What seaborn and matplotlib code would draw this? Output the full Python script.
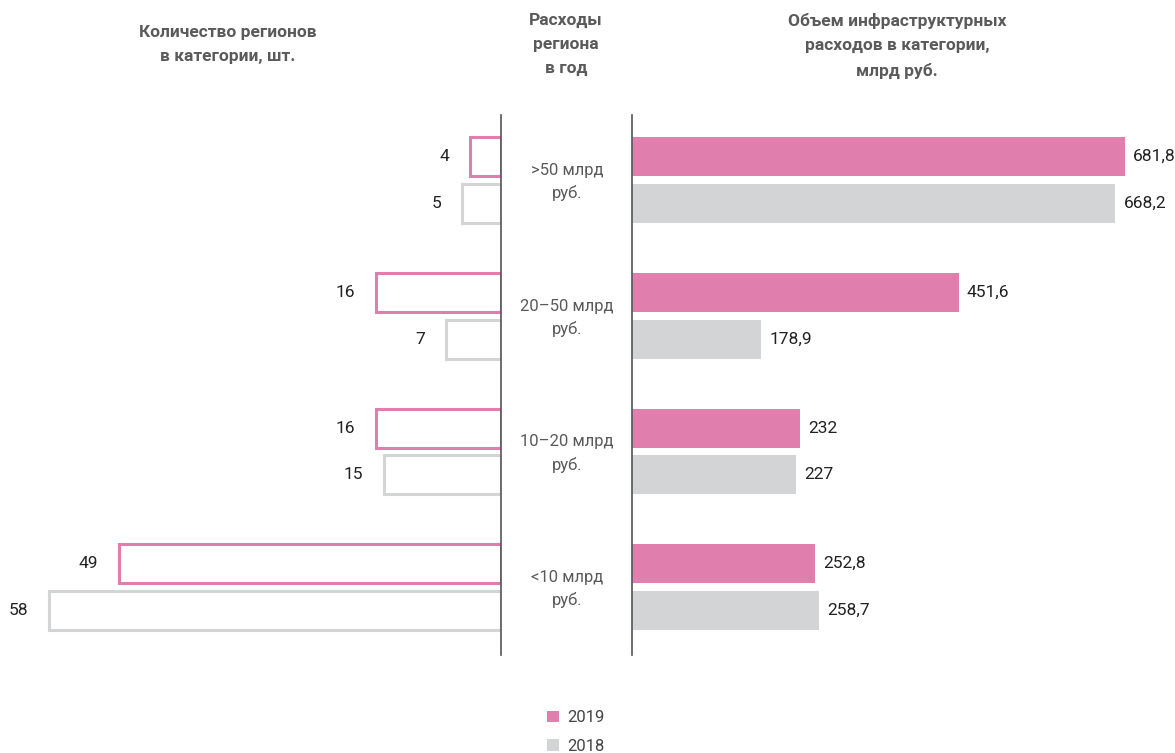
import pandas as pd
import matplotlib
matplotlib.use('Agg')
import matplotlib.pyplot as plt
import matplotlib.transforms as mtransforms
from matplotlib.patches import Patch
import seaborn as sns

categories = ['>50 млрд\nруб.', '20–50 млрд\nруб.', '10–20 млрд\nруб.', '<10 млрд\nруб.']
years = ['2019', '2018']
regions_2019 = [4, 16, 16, 49]
regions_2018 = [5, 7, 15, 58]
spend_2019 = [681.8, 451.6, 232, 252.8]
spend_2018 = [668.2, 178.9, 227, 258.7]

pink = '#E07FAD'
gray = '#D3D4D6'
palette = {'2019': pink, '2018': gray}
text_gray = '#5a5a5a'

sns.set_style('white')
plt.rcParams['font.family'] = ['Roboto', 'DejaVu Sans']

df_regions = pd.DataFrame({
    'cat': categories * 2,
    'year': ['2019'] * 4 + ['2018'] * 4,
    'value': regions_2019 + regions_2018,
})
df_spend = pd.DataFrame({
    'cat': categories * 2,
    'year': ['2019'] * 4 + ['2018'] * 4,
    'value': spend_2019 + spend_2018,
})

fig = plt.figure(figsize=(11.75, 7.53), dpi=100)
ax_l = fig.add_axes([40 / 1175, 98 / 753, 461 / 1175, 540 / 753])
ax_r = fig.add_axes([632 / 1175, 98 / 753, 528 / 1175, 540 / 753])

sns.barplot(data=df_regions, y='cat', x='value', hue='year', hue_order=years,
            palette=palette, saturation=1, fill=False, linewidth=2.2,
            width=0.69, gap=0.17, orient='h', legend=False, ax=ax_l)
sns.barplot(data=df_spend, y='cat', x='value', hue='year', hue_order=years,
            palette=palette, saturation=1, width=0.69, gap=0.17, linewidth=0,
            orient='h', legend=False, ax=ax_r)

ax_l.set_xlim(59.16, 0)
ax_r.set_xlim(0, 730.2)
for ax in (ax_l, ax_r):
    ax.set_ylim(3.5, -0.48)
    ax.set_xlabel('')
    ax.set_ylabel('')
    ax.set_xticks([])
    ax.set_yticks([])
    for s in ax.spines.values():
        s.set_visible(False)
    ax.patch.set_alpha(0)
ax_l.spines['right'].set_visible(True)
ax_l.spines['right'].set_color('#555555')
ax_l.spines['right'].set_linewidth(1.2)
ax_r.spines['left'].set_visible(True)
ax_r.spines['left'].set_color('#555555')
ax_r.spines['left'].set_linewidth(1.2)

def fmt(v):
    return f'{v:g}'.replace('.', ',')

for cont in ax_l.containers:
    ax_l.bar_label(cont, labels=[fmt(b.get_width()) for b in cont], padding=15,
                   fontsize=12.5, color='#222222')
for cont in ax_r.containers:
    ax_r.bar_label(cont, labels=[fmt(b.get_width()) for b in cont], padding=6,
                   fontsize=12.5, color='#222222')

trans = mtransforms.blended_transform_factory(fig.transFigure, ax_r.transData)
for i, c in enumerate(categories):
    ax_r.text(567 / 1175, i + 0.015, c, transform=trans, ha='center', va='center',
              fontsize=12, color=text_gray, linespacing=1.55)

head_kw = dict(ha='center', va='top', fontsize=12.5, fontweight='bold',
               color=text_gray, linespacing=1.75)
fig.text(228 / 1175, 1 - 25 / 753, 'Количество регионов\nв категории, шт.', **head_kw)
fig.text(566 / 1175, 1 - 13 / 753, 'Расходы\nрегиона\nв год', **head_kw)
fig.text(897 / 1175, 1 - 13 / 753, 'Объем инфраструктурных\nрасходов в категории,\nмлрд руб.', **head_kw)

handles = [Patch(facecolor=palette[y], edgecolor='none', label=y) for y in years]
fig.legend(handles=handles, loc='center', bbox_to_anchor=(576 / 1175, 1 - 732 / 753),
           frameon=False, fontsize=12, handlelength=0.7, handleheight=0.7,
           handletextpad=0.5, labelspacing=0.8, labelcolor='#444444')

fig.savefig('out.png', dpi=100)
